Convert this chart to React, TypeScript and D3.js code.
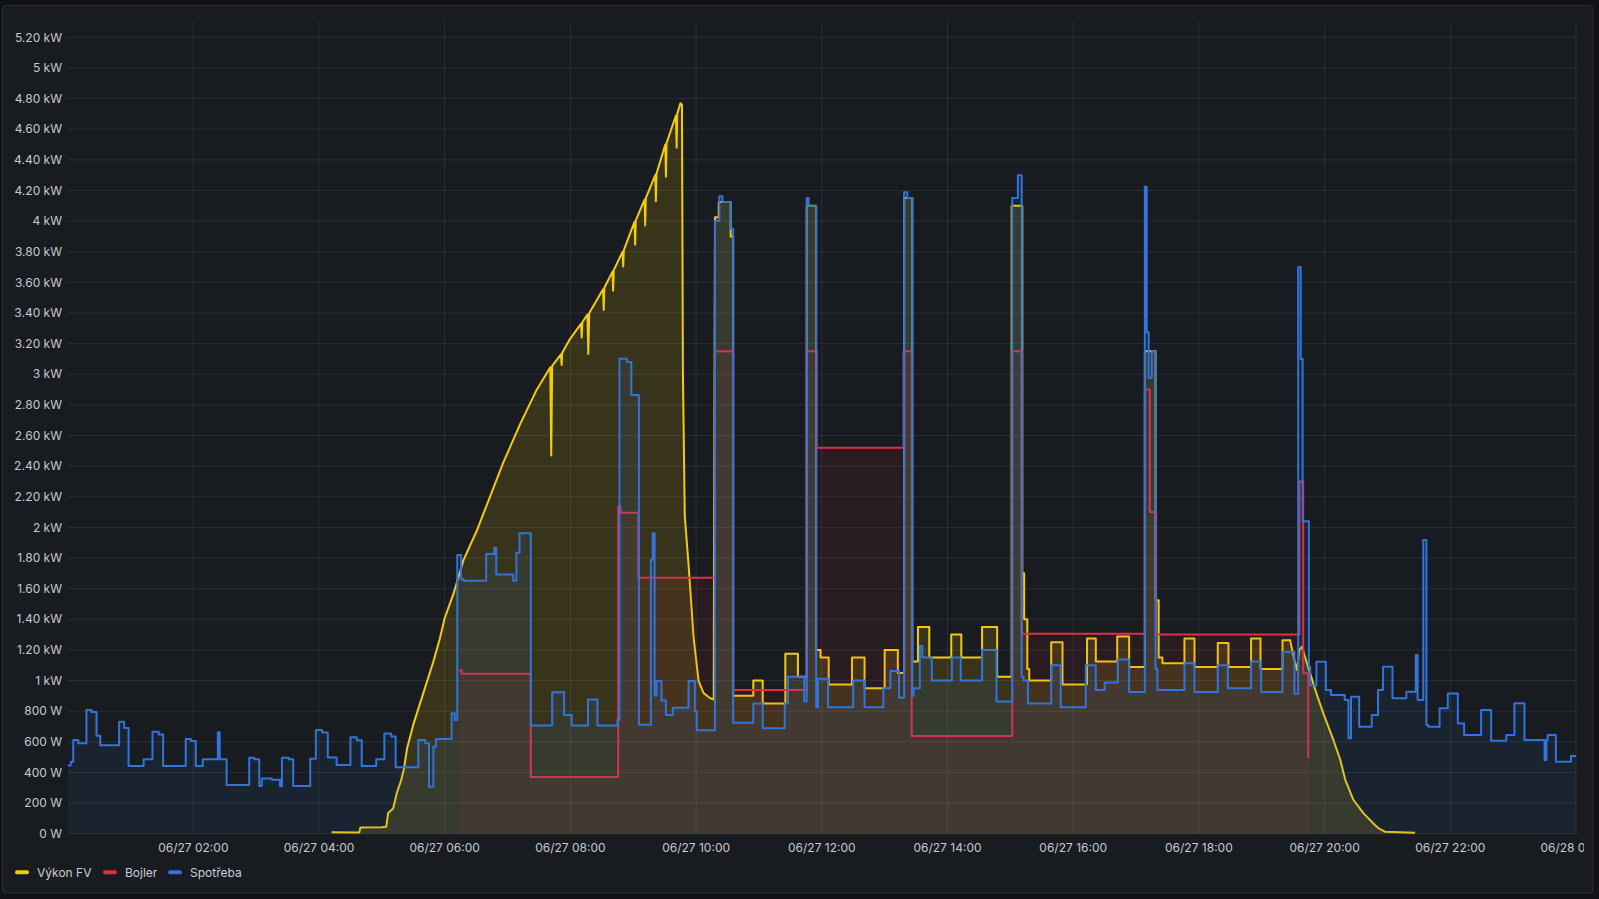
import React from 'react';
import * as d3 from 'd3';

const W = 1599;
const H = 899;

// time in hours (0 = 06/27 00:00), values in W
const xTickHours = [2, 4, 6, 8, 10, 12, 14, 16, 18, 20, 22, 24];
const xTickLabels = ['06/27 02:00', '06/27 04:00', '06/27 06:00', '06/27 08:00', '06/27 10:00', '06/27 12:00', '06/27 14:00', '06/27 16:00', '06/27 18:00', '06/27 20:00', '06/27 22:00', '06/28 00:00'];
const yTickValues = [0, 200, 400, 600, 800, 1000, 1200, 1400, 1600, 1800, 2000, 2200, 2400, 2600, 2800, 3000, 3200, 3400, 3600, 3800, 4000, 4200, 4400, 4600, 4800, 5000, 5200];
const yTickLabels = ['0 W', '200 W', '400 W', '600 W', '800 W', '1 kW', '1.20 kW', '1.40 kW', '1.60 kW', '1.80 kW', '2 kW', '2.20 kW', '2.40 kW', '2.60 kW', '2.80 kW', '3 kW', '3.20 kW', '3.40 kW', '3.60 kW', '3.80 kW', '4 kW', '4.20 kW', '4.40 kW', '4.60 kW', '4.80 kW', '5 kW', '5.20 kW'];

const seriesNames = ['Výkon FV', 'Bojler', 'Spotřeba'];
const seriesColors = ['#F2CC0C', '#E02F44', '#3274D9'];

// Výkon FV: morning ramp (linear samples)
const pvRamp: [number, number][] = [
  [4.20, 10], [4.64, 8], [4.66, 40], [5.00, 42], [5.07, 45], [5.10, 135], [5.18, 165], [5.24, 269], [5.30, 340], [5.35, 420],
  [5.40, 554], [5.50, 712], [5.66, 918], [5.82, 1124], [5.92, 1270], [6.00, 1408], [6.14, 1567], [6.30, 1788], [6.51, 1978],
  [6.72, 2200], [6.93, 2421], [7.20, 2674], [7.46, 2896], [7.68, 3045], [7.695, 2469], [7.71, 3055], [7.85, 3130], [7.86, 3060],
  [7.87, 3140], [7.99, 3228], [8.17, 3330], [8.18, 3240], [8.19, 3340], [8.27, 3390], [8.285, 3133], [8.30, 3400], [8.52, 3555],
  [8.53, 3420], [8.54, 3565], [8.67, 3670], [8.68, 3545], [8.69, 3680], [8.83, 3800], [8.84, 3703], [8.85, 3810], [9.02, 3995],
  [9.03, 3845], [9.04, 4005], [9.18, 4140], [9.19, 3972], [9.20, 4150], [9.35, 4300], [9.36, 4130], [9.37, 4310], [9.51, 4500],
  [9.52, 4289], [9.53, 4510], [9.68, 4690], [9.69, 4479], [9.70, 4700], [9.75, 4770], [9.775, 4760], [9.79, 3022], [9.82, 2073],
  [9.88, 1757], [9.96, 1282], [10.04, 997], [10.12, 918], [10.22, 886], [10.28, 875],
];
// Výkon FV: midday (step samples)
const pvMid: [number, number][] = [
  [10.30, 4025], [10.36, 4125], [10.55, 3900], [10.59, 900], [10.91, 1000], [11.06, 850], [11.42, 1175], [11.62, 1025],
  [11.76, 4100], [11.91, 1200], [11.98, 1150], [12.11, 975], [12.48, 1150], [12.68, 950], [13.00, 1200], [13.21, 1050],
  [13.31, 4150], [13.44, 1125], [13.53, 1350], [13.71, 1150], [14.06, 1300], [14.22, 1150], [14.55, 1350], [14.79, 1025],
  [15.02, 4100], [15.19, 1700], [15.22, 1400], [15.27, 1075], [15.30, 1000], [15.65, 1250], [15.83, 975], [16.22, 1275],
  [16.36, 1125], [16.70, 1288], [16.89, 1088], [17.14, 3150], [17.31, 1525], [17.36, 1150], [17.42, 1113], [17.77, 1275],
  [17.93, 1088], [18.30, 1245], [18.47, 1088], [18.83, 1275], [18.98, 1075], [19.33, 1263],
];
// Výkon FV: evening fall (linear samples)
const pvFall: [number, number][] = [
  [19.45, 1265], [19.51, 1150], [19.56, 1069], [19.60, 1200], [19.64, 1221], [19.72, 1112], [19.87, 916], [19.98, 786],
  [20.14, 612], [20.25, 481], [20.33, 350], [20.46, 220], [20.62, 133], [20.80, 57], [20.86, 35], [20.96, 13], [21.44, 7],
];

// Bojler (step samples)
const boiler: [number, number][] = [
  [6.23, 1067], [6.27, 1045], [7.37, 370], [8.76, 2136], [8.80, 2095], [9.08, 1671], [10.30, 3150], [10.59, 938],
  [11.76, 3150], [11.92, 2520], [13.30, 3150], [13.43, 638], [15.03, 3150], [15.18, 1305], [17.14, 2900], [17.22, 2100],
  [17.32, 1300], [19.60, 2300], [19.66, 1047], [19.74, 500],
];
const boilerEnd = 19.76;

// Spotřeba (step samples)
const consumption: [number, number][] = [
  [0.00, 445], [0.05, 470], [0.09, 612], [0.17, 590], [0.30, 808], [0.38, 795], [0.46, 640], [0.52, 578], [0.82, 731],
  [0.90, 690], [0.97, 442], [1.21, 486], [1.35, 666], [1.45, 648], [1.52, 442], [1.88, 618], [1.96, 605], [2.04, 442],
  [2.15, 486], [2.39, 662], [2.42, 486], [2.53, 318], [2.89, 496], [2.97, 486], [3.05, 311], [3.09, 361], [3.25, 352],
  [3.38, 310], [3.41, 496], [3.52, 486], [3.59, 311], [3.86, 490], [3.95, 677], [4.05, 660], [4.14, 498], [4.28, 448],
  [4.50, 629], [4.60, 610], [4.68, 442], [4.91, 486], [5.04, 655], [5.15, 634], [5.22, 434], [5.58, 612], [5.69, 591],
  [5.75, 306], [5.82, 568], [5.86, 618], [6.11, 786], [6.16, 742], [6.20, 1820], [6.26, 1661], [6.30, 1652], [6.66, 1826],
  [6.79, 1867], [6.82, 1693], [7.09, 1652], [7.14, 1835], [7.19, 1962], [7.37, 706], [7.71, 924], [7.90, 775], [8.02, 706],
  [8.28, 877], [8.43, 706], [8.75, 744], [8.78, 3102], [8.90, 3080], [8.97, 2864], [9.09, 712], [9.28, 1788], [9.31, 1962],
  [9.34, 902], [9.37, 997], [9.45, 870], [9.52, 775], [9.63, 823], [9.88, 997], [9.98, 800], [10.01, 675], [10.30, 4000],
  [10.37, 4163], [10.42, 4125], [10.55, 3950], [10.59, 725], [10.91, 850], [11.06, 688], [11.41, 850], [11.46, 1025],
  [11.72, 863], [11.76, 4150], [11.79, 4100], [11.91, 825], [11.94, 1012], [12.10, 825], [12.50, 1000], [12.68, 825],
  [12.98, 950], [13.09, 1063], [13.23, 888], [13.31, 4188], [13.36, 4150], [13.44, 900], [13.46, 950], [13.56, 1225],
  [13.60, 1150], [13.75, 1000], [14.07, 1150], [14.21, 1000], [14.55, 1200], [14.78, 863], [15.03, 4150], [15.12, 4300],
  [15.18, 1025], [15.21, 1000], [15.28, 850], [15.65, 1100], [15.80, 825], [16.20, 1100], [16.36, 938], [16.50, 988],
  [16.71, 1138], [16.89, 925], [17.14, 4225], [17.17, 3275], [17.20, 2975], [17.25, 3150], [17.31, 1075], [17.34, 938],
  [17.77, 1113], [17.93, 925], [18.30, 1100], [18.46, 950], [18.83, 1125], [18.99, 925], [19.33, 1188], [19.52, 913],
  [19.58, 3700], [19.62, 3100], [19.65, 2040], [19.75, 1090], [19.77, 970], [19.87, 1123], [20.02, 938], [20.10, 905],
  [20.32, 873], [20.38, 623], [20.42, 895], [20.55, 699], [20.75, 775], [20.85, 938], [20.93, 1090], [21.08, 884],
  [21.30, 927], [21.45, 1167], [21.48, 873], [21.57, 1918], [21.62, 710], [21.65, 699], [21.83, 819], [21.96, 916],
  [22.12, 720], [22.22, 644], [22.49, 808], [22.65, 607], [22.89, 644], [23.02, 851], [23.18, 612], [23.50, 481],
  [23.53, 612], [23.55, 644], [23.68, 470], [23.92, 507],
];
const consumptionEnd = 24;

function expandSteps(arr: [number, number][], end: number): [number, number][] {
  const out: [number, number][] = [];
  arr.forEach((d, i) => {
    const next = i < arr.length - 1 ? arr[i + 1][0] : end;
    out.push([d[0], d[1]]);
    out.push([next, d[1]]);
  });
  return out;
}

const FONT = "Inter, 'Noto Sans', 'DejaVu Sans', sans-serif";

export default function App() {
  const x = d3.scaleLinear().domain([0, 24]).range([67.6, 1576]);
  const y = d3.scaleLinear().domain([0, 5300]).range([833.7, 22]);

  const pvData = [...pvRamp, ...expandSteps(pvMid, pvFall[0][0]), ...pvFall];
  const boilerData = expandSteps(boiler, boilerEnd);
  const consData = expandSteps(consumption, consumptionEnd);
  const all = [pvData, boilerData, consData];

  const line = d3.line<[number, number]>().x(d => x(d[0])).y(d => y(d[1]));
  const area = d3.area<[number, number]>().x(d => x(d[0])).y0(y(0)).y1(d => y(d[1]));
  const fillOp = [0.15, 0.08, 0.1];

  const gridColor = 'rgba(204,204,220,0.10)';
  const legendX = [15, 103, 168];

  return (
    <svg width={W} height={H} style={{ position: 'absolute', left: 0, top: 0, display: 'block' }}>
      <defs>
        <clipPath id="plotClip">
          <rect x={x(0)} y={20} width={x(24) - x(0) + 1} height={y(0) - 20 + 2} />
        </clipPath>
        <clipPath id="panelClip">
          <rect x={3} y={6} width={1581} height={886} />
        </clipPath>
      </defs>
      <rect x={0} y={0} width={W} height={H} fill="#111217" />
      <rect x={2.5} y={5.5} width={1590.5} height={887.5} rx={3} fill="#181b1f" stroke="rgba(204,204,220,0.12)" />

      {/* grid */}
      <g>
        {yTickValues.map(v => (
          <line key={'h' + v} x1={x(0)} x2={x(24) + 1} y1={y(v)} y2={y(v)} stroke={gridColor} strokeWidth={1} />
        ))}
        {xTickHours.map(h => (
          <line key={'v' + h} x1={x(h)} x2={x(h)} y1={y(5300)} y2={y(0)} stroke={gridColor} strokeWidth={1} />
        ))}
      </g>

      {/* series */}
      <g clipPath="url(#plotClip)">
        {all.map((data, i) => (
          <g key={seriesNames[i]}>
            <path d={area(data) || ''} fill={seriesColors[i]} fillOpacity={fillOp[i]} stroke="none" />
            <path d={line(data) || ''} fill="none" stroke={seriesColors[i]} strokeWidth={2} strokeLinejoin="round" />
          </g>
        ))}
      </g>

      {/* y axis labels */}
      <g fontFamily={FONT} fontSize={12} fill="#c7c8d1">
        {yTickValues.map((v, i) => (
          <text key={'yl' + v} x={62} y={y(v)} dy="0.35em" textAnchor="end">{yTickLabels[i]}</text>
        ))}
      </g>

      {/* x axis labels */}
      <g fontFamily={FONT} fontSize={12} fill="#c7c8d1" clipPath="url(#panelClip)">
        {xTickHours.map((h, i) => (
          <text key={'xl' + h} x={x(h)} y={851.5} textAnchor="middle">{xTickLabels[i]}</text>
        ))}
      </g>

      {/* legend */}
      <g fontFamily={FONT} fontSize={12} fill="#ccccdc">
        {seriesNames.map((n, i) => (
          <g key={'lg' + n}>
            <rect x={legendX[i]} y={870.3} width={14} height={4} rx={2} fill={seriesColors[i]} />
            <text x={legendX[i] + 22} y={876.5}>{n}</text>
          </g>
        ))}
      </g>
    </svg>
  );
}
